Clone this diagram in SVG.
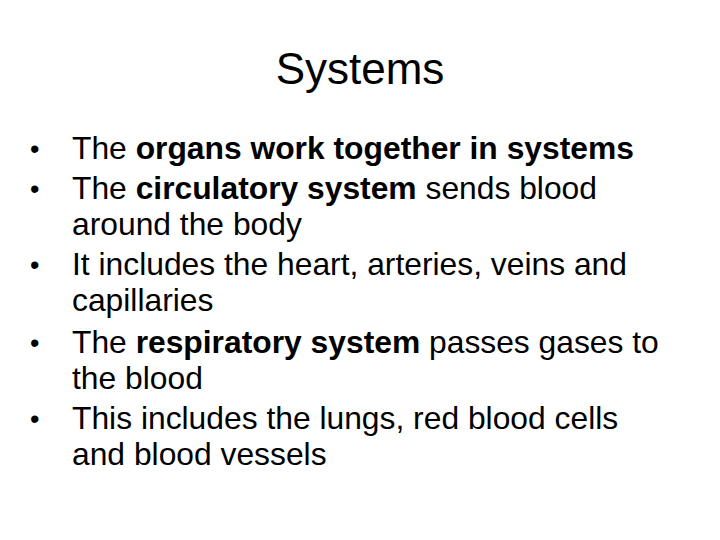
<svg xmlns="http://www.w3.org/2000/svg" width="720" height="540" viewBox="0 0 720 540">
<style>
text{font-family:"Liberation Sans",Arial,sans-serif;fill:#000}
.t{font-size:44px}
.b{font-size:27px}
.s{font-weight:bold}
.l{font-size:31.8px}
</style>
<rect width="720" height="540" fill="#fff"/>
<text class="t" x="360" y="84" text-anchor="middle">Systems</text>
<g class="b">
<text x="30" y="158">•</text><text x="30" y="198">•</text><text x="30" y="274">•</text><text x="30" y="352">•</text><text x="30" y="428">•</text>
</g>
<g class="l">
<text x="72" y="159">The <tspan class="s">organs work together in systems</tspan></text>
<text x="72" y="199">The <tspan class="s">circulatory system</tspan> sends blood</text>
<text x="72" y="235">around the body</text>
<text x="72" y="275">It includes the heart, arteries, veins and</text>
<text x="72" y="311">capillaries</text>
<text x="72" y="353">The <tspan class="s">respiratory system</tspan> passes gases to</text>
<text x="72" y="389">the blood</text>
<text x="72" y="429">This includes the lungs, red blood cells</text>
<text x="72" y="465">and blood vessels</text>
</g>
</svg>
